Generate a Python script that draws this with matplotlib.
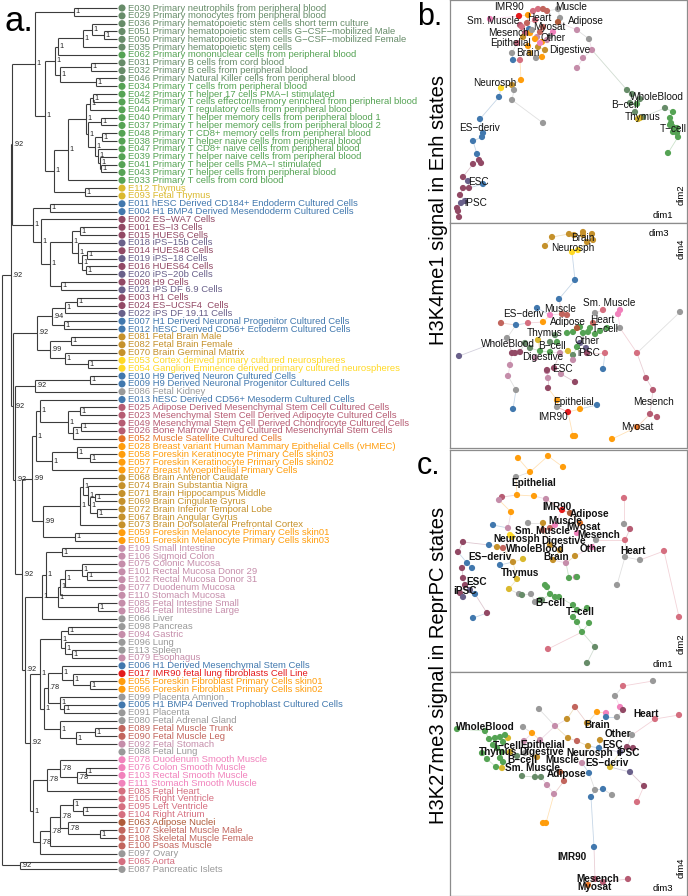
import numpy as np
import matplotlib

matplotlib.use("Agg")
import matplotlib.pyplot as plt

plt.rcParams["font.family"] = ["Liberation Sans", "DejaVu Sans"]

GROUP_COLORS = {
    "hsc": "#678C69", "blood": "#55A354", "thy": "#DAB92E", "esd": "#4178AE",
    "esc": "#924965", "ips": "#69608A", "neu": "#FFD924", "brain": "#C5912B",
    "epi": "#FF9D0C", "mes": "#B65C73", "myo": "#E67326", "mus": "#C2655D",
    "smm": "#F182BC", "dig": "#C58DAA", "heart": "#D56F80", "adi": "#AF5B39",
    "imr": "#E41A1C", "oth": "#999999",
}

# ---- dendrogram leaves (top to bottom) ----
LEAF_IDS = """E030 E029 E036 E051 E050 E035 E062 E031 E032 E046 E034 E042 E045 E044 E040 E037
E048 E038 E047 E039 E041 E043 E033 E112 E093 E011 E004 E002 E001 E015 E018 E014 E019 E016 E020
E008 E021 E003 E024 E022 E007 E012 E081 E082 E070 E053 E054 E010 E009 E086 E013 E025 E023 E049
E026 E052 E028 E058 E057 E027 E068 E074 E071 E069 E072 E067 E073 E059 E061 E109 E106 E075 E101
E102 E077 E110 E085 E084 E066 E098 E094 E096 E113 E079 E006 E017 E055 E056 E099 E005 E091 E080
E089 E090 E092 E088 E078 E076 E103 E111 E083 E105 E095 E104 E063 E107 E108 E100 E097 E065 E087""".split()

LEAF_NAMES = [
    "Primary neutrophils from peripheral blood", "Primary monocytes from peripheral blood",
    "Primary hematopoietic stem cells short term culture",
    "Primary hematopoietic stem cells G\u2212CSF\u2212mobilized Male",
    "Primary hematopoietic stem cells G\u2212CSF\u2212mobilized Female",
    "Primary hematopoietic stem cells", "Primary mononuclear cells from peripheral blood",
    "Primary B cells from cord blood", "Primary B cells from peripheral blood",
    "Primary Natural Killer cells from peripheral blood", "Primary T cells from peripheral blood",
    "Primary T helper 17 cells PMA\u2212I stimulated",
    "Primary T cells effector/memory enriched from peripheral blood",
    "Primary T regulatory cells from peripheral blood",
    "Primary T helper memory cells from peripheral blood 1",
    "Primary T helper memory cells from peripheral blood 2",
    "Primary T CD8+ memory cells from peripheral blood",
    "Primary T helper naive cells from peripheral blood",
    "Primary T CD8+ naive cells from peripheral blood",
    "Primary T helper naive cells from peripheral blood",
    "Primary T helper cells PMA\u2212I stimulated", "Primary T helper cells from peripheral blood",
    "Primary T cells from cord blood", "Thymus", "Fetal Thymus",
    "hESC Derived CD184+ Endoderm Cultured Cells", "H1 BMP4 Derived Mesendoderm Cultured Cells",
    "ES\u2212WA7 Cells", "ES\u2212I3 Cells", "HUES6 Cells", "iPS\u221215b Cells", "HUES48 Cells",
    "iPS\u221218 Cells", "HUES64 Cells", "iPS\u221220b Cells", "H9 Cells", "iPS DF 6.9 Cells",
    "H1 Cells", "ES\u2212UCSF4  Cells", "iPS DF 19.11 Cells",
    "H1 Derived Neuronal Progenitor Cultured Cells", "hESC Derived CD56+ Ectoderm Cultured Cells",
    "Fetal Brain Male", "Fetal Brain Female", "Brain Germinal Matrix",
    "Cortex derived primary cultured neurospheres",
    "Ganglion Eminence derived primary cultured neurospheres",
    "H9 Derived Neuron Cultured Cells", "H9 Derived Neuronal Progenitor Cultured Cells",
    "Fetal Kidney", "hESC Derived CD56+ Mesoderm Cultured Cells",
    "Adipose Derived Mesenchymal Stem Cell Cultured Cells",
    "Mesenchymal Stem Cell Derived Adipocyte Cultured Cells",
    "Mesenchymal Stem Cell Derived Chondrocyte Cultured Cells",
    "Bone Marrow Derived Cultured Mesenchymal Stem Cells", "Muscle Satellite Cultured Cells",
    "Breast variant Human Mammary Epithelial Cells (vHMEC)",
    "Foreskin Keratinocyte Primary Cells skin03", "Foreskin Keratinocyte Primary Cells skin02",
    "Breast Myoepithelial Primary Cells", "Brain Anterior Caudate", "Brain Substantia Nigra",
    "Brain Hippocampus Middle", "Brain Cingulate Gyrus", "Brain Inferior Temporal Lobe",
    "Brain Angular Gyrus", "Brain Dorsolateral Prefrontal Cortex",
    "Foreskin Melanocyte Primary Cells skin01", "Foreskin Melanocyte Primary Cells skin03",
    "Small Intestine", "Sigmoid Colon", "Colonic Mucosa", "Rectal Mucosa Donor 29",
    "Rectal Mucosa Donor 31", "Duodenum Mucosa", "Stomach Mucosa", "Fetal Intestine Small",
    "Fetal Intestine Large", "Liver", "Pancreas", "Gastric", "Lung", "Spleen", "Esophagus",
    "H1 Derived Mesenchymal Stem Cells", "IMR90 fetal lung fibroblasts Cell Line",
    "Foreskin Fibroblast Primary Cells skin01", "Foreskin Fibroblast Primary Cells skin02",
    "Placenta Amnion", "H1 BMP4 Derived Trophoblast Cultured Cells", "Placenta",
    "Fetal Adrenal Gland", "Fetal Muscle Trunk", "Fetal Muscle Leg", "Fetal Stomach",
    "Fetal Lung", "Duodenum Smooth Muscle", "Colon Smooth Muscle", "Rectal Smooth Muscle",
    "Stomach Smooth Muscle", "Fetal Heart", "Right Ventricle", "Left Ventricle", "Right Atrium",
    "Adipose Nuclei", "Skeletal Muscle Male", "Skeletal Muscle Female", "Psoas Muscle", "Ovary",
    "Aorta", "Pancreatic Islets",
]

LEAF_GROUPS = (
    ["hsc"] * 6 + ["blood"] + ["hsc"] * 3 + ["blood"] * 13 + ["thy"] * 2 + ["esd"] * 2
    + ["esc", "esc", "esc", "ips", "esc", "ips", "esc", "ips", "esc", "ips", "esc", "esc", "ips"]
    + ["esd", "esd", "brain", "brain", "brain", "neu", "neu", "esd", "esd", "oth", "esd"]
    + ["mes"] * 4 + ["myo"] + ["epi"] * 4 + ["brain"] * 7 + ["epi"] * 2 + ["dig"] * 9
    + ["oth", "oth", "dig", "oth", "oth", "dig", "esd", "imr", "epi", "epi", "oth", "esd", "oth",
       "oth", "mus", "mus", "dig", "oth"] + ["smm"] * 4 + ["heart"] * 4
    + ["adi", "mus", "mus", "mus", "oth", "heart", "oth"]
)


def n(height, support, *kids):
    return (height, support, kids)


# branch heights and support values of the consensus tree
BLOOD = n(35, "1", n(74, "1", "E030", "E029"),
          n(45, "1",
            n(55, "1",
              n(58, "1", n(83, "1", n(92, "1", "E036", n(104, "1", "E051", "E050")), "E035"), "E062"),
              n(60, "1", n(91, "1", "E031", "E032"), n(96, "1", "E046", "E034"))),
            n(54, "1",
              n(68, "1",
                n(86, "1",
                  n(90, "1", n(93, "1", "E042", "E045"), "E044"),
                  n(88, "1", n(101, "1", "E040", "E037"),
                    n(95, "1", n(102, "1", "E048", "E038"),
                      n(98, "1", "E047", n(100, "1", "E039", n(101, "1", "E041", "E043")))))),
                "E033"),
              n(85, "1", "E112", "E093"))))
ESC = n(33, "1", n(50, "1", "E011", "E004"),
        n(41, "1", "E002",
          n(50, "1",
            n(72, "1", n(80, "1", "E001", "E015"),
              n(78, "1", "E018", n(82, "1", n(87, "1", "E014", "E019"), n(86, "1", "E016", "E020")))),
            n(61, "1", "E008", "E021"))))
NEURO = n(37, ".92",
          n(52, ".94", n(65, "1", n(77, "1", "E003", "E024"), "E022"), n(64, "1", "E007", "E012")),
          n(50, ".99", n(71, "1", "E081", "E082"), n(65, "1", "E070", n(88, "1", "E053", "E054"))))
BRAIN = n(80, "1",
          n(83, "1", "E068",
            n(88, "1", "E074", n(90, "1", n(95, "1", "E071", "E069"), n(97, "1", "E072", "E067")))),
          "E073")
TISSUE = n(32, ".99",
           n(36, "1",
             n(40, "1", "E013",
               n(68, "1", n(80, "1", "E025", "E023"), n(73, "1", n(81, "1", "E049", "E026"), "E052"))),
             n(52, "1", n(77, "1", "E028", n(90, "1", "E058", "E057")), "E027")),
           n(43, ".99", BRAIN, n(75, "1", "E059", "E061")))
DIGEST = n(42, "1",
           n(46, "1", n(62, "1", "E109", "E106"),
             n(58, "1",
               n(60, "1", n(65, "1", n(82, "1", "E075", n(87, "1", "E101", "E102")), "E077"), "E110"),
               n(98, "1", "E085", "E084"))),
           "E066")
MIXED = n(40, "1",
          n(61, "1", n(68, "1", "E098", "E094"), n(65, "1", "E096", n(72, "1", "E113", "E079"))),
          n(44, "1",
            n(48, ".78",
              n(62, "1", "E006", n(73, "1", "E017", n(90, "1", "E055", "E056"))),
              n(60, "1", "E099", n(64, "1", "E005", "E091"))),
            n(60, "1", "E080", n(76, "1", n(95, "1", "E089", "E090"), "E092"))))
MUSCLE = n(33, "1",
           n(47, ".78", n(60, ".78", "E078", n(77, ".78", n(86, "1", "E076", "E103"), "E111")), "E083"),
           n(40, ".78",
             n(50, ".78",
               n(60, ".78", n(73, "1", "E105", n(83, "1", "E095", "E104")),
                 n(68, ".78", "E063", n(100, "1", "E107", "E108"))),
               "E100"),
             "E097"))
TREE = n(2, "",
         n(11, ".92",
           n(12, ".92", BLOOD, ESC),
           n(13, ".92", NEURO,
             n(15, ".92", n(35, ".92", n(90, "1", "E010", "E009"), "E086"),
               n(22, ".92", TISSUE,
                 n(25, ".92", DIGEST, n(30, ".92", MIXED, MUSCLE)))))),
         n(20, ".92", "E065", "E087"))

# ---- MDS-like panels: point positions (panel units) ----
BT_X = [69, 83, 88, 93, 97, 108, 110, 108, 78, 40, 70, 72, 77, 79, 75, 87, 85, 92, 78, 88, 80, 92, 70,
        62, 63, 90, 127, 139, 142, 133, 127, 100, 97, 103, 80, 73, 67, 93, 90, 85, 82, 95, 86,
        51, 62, 64, 71, 49, 62, 93, 30, 33, 32, 23, 27, 29, 23, 31, 13, 19, 13, 8, 9, 33, 11, 15, 7,
        18, 10, 177, 182, 190, 180, 185, 215, 193, 187, 223, 220, 221, 223, 225, 227, 228, 223, 218,
        227, 220, 188, 190]
BT_Y = [16, 11, 9, 9, 11, 9, 18, 22, 15, 19, 25, 27, 23, 29, 33, 37, 39, 42, 46, 47, 53, 57, 60,
        53, 60, 43, 30, 39, 50, 58, 68, 36, 40, 32, 33, 37, 43, 27, 32, 20, 30, 50, 58,
        88, 85, 90, 80, 97, 100, 123, 119, 133, 137, 141, 154, 160, 164, 163, 177, 188, 188, 211,
        217, 184, 203, 201, 208, 181, 195, 90, 94, 99, 103, 112, 108, 117, 104, 112, 118, 123, 127,
        130, 133, 137, 132, 153, 128, 125, 119, 118]
BT_G = ["imr", "heart", "heart", "mus", "mus", "oth", "oth", "adi", "epi", "smm", "mes", "heart",
        "mus", "esd", "mes", "dig", "epi", "epi", "epi", "brain", "brain", "epi", "heart", "oth",
        "esd", "smm", "dig", "oth", "dig", "dig", "dig", "oth", "dig", "smm", "epi", "brain", "mes",
        "mus", "mus", "heart", "oth", "brain", "oth",
        "neu", "brain", "oth", "epi", "esd", "oth", "oth", "esd", "esd", "esd", "esd", "esd", "esc",
        "esc", "esc", "esc", "esc", "esc", "esc", "esc", "esd", "ips", "ips", "esc", "ips", "esc",
        "hsc", "hsc", "hsc", "hsc", "hsc", "hsc", "hsc", "blood", "blood", "blood", "blood", "blood",
        "blood", "blood", "blood", "blood", "blood", "blood", "blood", "thy", "thy"]

BB_X = [102, 119, 124, 133, 142, 143, 133, 137, 95, 122, 128, 125, 109, 87, 66, 153, 147, 63, 66, 230,
        107, 57, 145, 170, 9, 130, 136, 51, 112, 117, 143, 78, 153, 187, 155, 170, 168, 100, 196, 203,
        200, 207, 187, 118, 130, 123, 125, 162, 107, 93, 117, 123, 133, 138, 145, 157, 127, 107, 100,
        90, 130, 140, 150, 100, 105, 123, 80, 75, 88, 118, 127, 97, 98, 111, 58, 123, 60, 110, 85, 98,
        97, 125, 137, 62, 65, 70, 104]
BB_Y = [14, 11, 12, 9, 11, 17, 12, 19, 23, 29, 27, 57, 76, 85, 102, 146, 182, 186, 167, 89, 184, 115,
        90, 105, 133, 120, 125, 100, 91, 92, 100, 100, 87, 130, 130, 87, 91, 92, 155, 167, 191, 194,
        204, 189, 186, 213, 213, 216, 177, 99, 110, 109, 110, 109, 111, 105, 124, 119, 129, 128, 104,
        105, 108, 119, 112, 132, 125, 120, 117, 128, 105, 148, 155, 151, 153, 137, 142, 130, 135, 165,
        147, 159, 130, 130, 130, 129, 145]
BB_G = ["brain"] * 9 + ["neu"] * 2 + ["esd"] * 7 + ["oth"] * 6 + ["ips"] * 3 + ["mus"] * 4 \
    + ["heart"] * 4 + ["smm"] * 3 + ["mes"] * 4 + ["myo", "imr"] + ["epi"] * 6 + ["blood"] * 13 \
    + ["hsc"] * 5 + ["thy"] * 2 + ["adi"] + ["dig"] * 8 + ["esc"] * 8

CT_X = [68, 98, 113, 80, 67, 84, 61, 66, 78, 81, 85, 69, 167, 190, 175, 174, 146, 52, 49, 96, 174,
        175, 214, 229, 98, 116, 126, 58, 180, 43, 39, 50, 17, 22, 25, 23, 12, 13, 15, 37, 10, 13, 8,
        13, 20, 59, 73, 67, 47, 63, 93, 125, 103, 110, 100, 62, 60, 119, 127, 95, 97, 100, 105, 109,
        123, 127, 137, 123, 127, 139, 132, 90, 145, 137, 72, 92, 112, 100, 93, 53, 120, 127, 142, 105,
        130]
CT_Y = [8, 6, 17, 22, 45, 46, 62, 27, 73, 144, 152, 144, 135, 110, 107, 74, 90, 47, 50, 49, 48, 90,
        101, 167, 199, 113, 127, 78, 79, 75, 95, 115, 113, 118, 144, 168, 118, 128, 135, 163, 143, 92,
        102, 147, 140, 139, 109, 129, 97, 112, 73, 106, 110, 100, 95, 87, 85, 128, 127, 135, 137, 144,
        147, 147, 155, 160, 158, 167, 172, 173, 182, 150, 197, 213, 145, 150, 60, 78, 80, 98, 63, 83,
        97, 75, 73]
CT_G = ["epi"] * 7 + ["oth"] * 10 + ["mes", "dig", "dig", "heart", "heart", "heart", "heart", "heart",
                                     "dig", "dig", "dig", "mes"] \
    + ["esd"] * 7 + ["esc"] * 7 + ["ips"] * 2 + ["thy"] * 3 + ["brain"] * 7 + ["neu"] * 2 \
    + ["blood"] * 15 + ["hsc"] * 4 + ["imr", "mus", "mus", "mus", "adi", "smm", "smm", "smm", "myo"]

CB_X = [203, 165, 89, 167, 73, 182, 162, 145, 75, 173, 229, 205, 187, 170, 156, 125, 127, 114, 147, 82,
        93, 96, 173, 177, 183, 194, 156, 149, 153, 141, 139, 144, 117, 137, 150, 118, 138, 87, 105, 74,
        90, 132, 104, 97, 58, 52, 60, 160, 180, 170, 178, 145, 153, 138, 7, 35, 39, 45, 50, 55, 53, 43,
        47, 52, 32, 37, 46, 50, 53, 72, 85, 91, 67, 110]
CB_Y = [9, 24, 37, 45, 55, 63, 123, 118, 81, 14, 43, 47, 130, 35, 41, 35, 69, 109, 40, 61, 151, 151,
        38, 75, 76, 114, 45, 76, 117, 125, 101, 175, 47, 51, 68, 66, 74, 85, 54, 69, 68, 91, 122, 113,
        66, 96, 80, 95, 100, 80, 207, 207, 210, 213, 57, 59, 67, 66, 65, 63, 70, 73, 76, 80, 81, 87,
        95, 86, 90, 104, 105, 105, 84, 100]
CB_G = ["oth"] * 9 + ["heart"] * 4 + ["smm"] * 2 + ["mus"] * 3 + ["epi"] * 4 + ["esc"] * 4 \
    + ["esd"] * 6 + ["brain"] * 6 + ["dig"] * 6 + ["thy"] * 4 + ["ips"] * 2 + ["mes"] * 3 + ["myo"] \
    + ["blood"] * 15 + ["hsc"] * 4 + ["adi"]

# group name labels at group centres
BT_LABELS = ["IMR90", "Muscle", "Sm. Muscle", "Heart", "Adipose", "Myosat", "Mesench", "Other",
             "Epithelial", "Digestive", "Brain", "Neurosph", "ES\u2212deriv", "ESC", "iPSC",
             "WholeBlood", "B\u2212cell", "Thymus", "T\u2212cell"]
BT_LX = [59, 121, 43, 89, 136, 99, 58, 103, 60, 120, 78, 45, 29, 28, 26, 207, 175, 193, 223]
BT_LY = [7, 7, 21, 18, 21, 27, 33, 38, 43, 50, 53, 83, 128, 182, 203, 97, 105, 117, 129]

BB_LABELS = ["Brain", "Neurosph", "Sm. Muscle", "Muscle", "ES\u2212deriv", "Heart", "Adipose",
             "T\u2212cell", "Thymus", "Other", "WholeBlood", "B\u2212cell", "iPSC", "Digestive", "ESC",
             "Epithelial", "IMR90", "Mesench", "Myosat"]
BB_LX = [133, 123, 159, 110, 73, 152, 118, 155, 95, 137, 58, 102, 139, 93, 112, 123, 103, 203, 187]
BB_LY = [15, 25, 80, 86, 91, 97, 99, 106, 110, 118, 121, 123, 130, 134, 146, 179, 194, 179, 204]

CT_LABELS = ["Epithelial", "IMR90", "Adipose", "Muscle", "Myosat", "Sm. Muscle", "Mesench",
             "Neurosph", "Digestive", "WholeBlood", "Other", "Heart", "ES\u2212deriv", "Brain",
             "Thymus", "ESC", "iPSC", "B\u2212cell", "T\u2212cell"]
CT_LX = [84, 107, 140, 115, 133, 92, 149, 67, 114, 85, 143, 183, 40, 106, 70, 27, 15, 100, 130]
CT_LY = [33, 57, 64, 71, 77, 81, 85, 89, 91, 99, 99, 101, 107, 107, 123, 132, 141, 153, 162]

CB_LABELS = ["Heart", "WholeBlood", "Brain", "Other", "ESC", "T\u2212cell", "Epithelial", "Thymus",
             "Digestive", "Neurosph", "iPSC", "B\u2212cell", "Muscle", "ES\u2212deriv", "Sm. Muscle",
             "Adipose", "IMR90", "Mesench", "Myosat"]
CB_LX = [196, 35, 147, 168, 163, 57, 93, 48, 92, 140, 178, 72, 112, 157, 82, 117, 122, 148, 144]
CB_LY = [42, 55, 53, 62, 73, 74, 73, 80, 80, 81, 81, 88, 88, 91, 96, 102, 185, 207, 215]


def spanning_edges(xs, ys):
    pts = np.column_stack([xs, ys]).astype(float)
    count = len(pts)
    dist = np.hypot(pts[:, None, 0] - pts[None, :, 0], pts[:, None, 1] - pts[None, :, 1])
    in_tree = np.zeros(count, bool)
    in_tree[0] = True
    best = dist[0].copy()
    parent = np.zeros(count, int)
    edges = []
    for _ in range(count - 1):
        j = int(np.argmin(np.where(in_tree, np.inf, best)))
        edges.append((parent[j], j))
        in_tree[j] = True
        closer = dist[j] < best
        parent[closer] = j
        best = np.minimum(best, dist[j])
    return edges


def draw_tree(ax):
    index = {leaf: i for i, leaf in enumerate(LEAF_IDS)}
    tip_x = 117
    line = dict(color="#3c3c3c", lw=0.8, solid_capstyle="butt")

    def walk(node):
        if isinstance(node, str):
            return tip_x, index[node]
        height, support, kids = node
        placed = [walk(k) for k in kids]
        ys = [p[1] for p in placed]
        y = float(np.mean(ys))
        ax.plot([height, height], [min(ys), max(ys)], **line)
        for kx, ky in placed:
            ax.plot([height, kx], [ky, ky], **line)
        if support:
            ax.text(height + 1.3, y, support, fontsize=5.2, ha="left", va="center", color="#222222")
        return height, y

    walk(TREE)
    colors = [GROUP_COLORS[g] for g in LEAF_GROUPS]
    rows = np.arange(len(LEAF_IDS))
    ax.scatter(np.full(len(rows), 122), rows, s=26, c=colors, linewidths=0, zorder=3)
    for i, (eid, name, col) in enumerate(zip(LEAF_IDS, LEAF_NAMES, colors)):
        ax.text(128.5, i, f"{eid} {name}", fontsize=6.8, color=col, ha="left", va="center")


def draw_panel(ax, xs, ys, groups, labels, lx, ly, height, bold, dims, dims_top):
    colors = [GROUP_COLORS[g] for g in groups]
    for a, b in spanning_edges(xs, ys):
        ax.plot([xs[a], xs[b]], [ys[a], ys[b]], color=colors[b], alpha=0.3, lw=0.6, zorder=1)
    ax.scatter(xs, ys, s=20, c=colors, linewidths=0, zorder=2)
    for text, x, y in zip(labels, lx, ly):
        ax.text(x, y, text, fontsize=7.2, ha="center", va="center", zorder=4,
                fontweight="bold" if bold else "normal", color="#111111")
    ax.set_xlim(0, 237)
    ax.set_ylim(height, 0)
    ax.set_xticks([])
    ax.set_yticks([])
    for spine in ax.spines.values():
        spine.set_color("#8c8c8c")
        spine.set_linewidth(0.9)
    if dims_top:
        ax.text(0.88, 0.975, dims[0], transform=ax.transAxes, fontsize=6.8, ha="center", va="top")
        ax.text(0.995, 0.93, dims[1], transform=ax.transAxes, fontsize=6.8, rotation=90,
                ha="right", va="top")
    else:
        ax.text(0.9, 0.015, dims[0], transform=ax.transAxes, fontsize=6.8, ha="center", va="bottom")
        ax.text(0.995, 0.08, dims[1], transform=ax.transAxes, fontsize=6.8, rotation=90,
                ha="right", va="bottom")


def main():
    W, H = 688, 896
    fig = plt.figure(figsize=(W / 100, H / 100), dpi=100)

    ax_tree = fig.add_axes([0, 0, 440 / W, 1])
    ax_tree.set_xlim(0, 440)
    spacing = (869.4 - 8) / (len(LEAF_IDS) - 1)
    ax_tree.set_ylim(len(LEAF_IDS) - 1 + (H - 869.4) / spacing, -8 / spacing)
    ax_tree.axis("off")
    draw_tree(ax_tree)

    panels = [
        (0, 223, BT_X, BT_Y, BT_G, BT_LABELS, BT_LX, BT_LY, False, ("dim1", "dim2"), False),
        (223, 448, BB_X, BB_Y, BB_G, BB_LABELS, BB_LX, BB_LY, False, ("dim3", "dim4"), True),
        (450, 672, CT_X, CT_Y, CT_G, CT_LABELS, CT_LX, CT_LY, True, ("dim1", "dim2"), False),
        (672, 896, CB_X, CB_Y, CB_G, CB_LABELS, CB_LX, CB_LY, True, ("dim3", "dim4"), False),
    ]
    for top, bottom, xs, ys, gs, labs, lx, ly, bold, dims, dims_top in panels:
        ax = fig.add_axes([450 / W, 1 - bottom / H, 237 / W, (bottom - top) / H])
        draw_panel(ax, xs, ys, gs, labs, lx, ly, bottom - top, bold, dims, dims_top)

    fig.text(5 / W, 1 - 31 / H, "a.", fontsize=25, ha="left", va="baseline")
    fig.text(417 / W, 1 - 25 / H, "b.", fontsize=22, ha="left", va="baseline")
    fig.text(417 / W, 1 - 474 / H, "c.", fontsize=22, ha="left", va="baseline")
    fig.text(439 / W, 1 - 210 / H, "H3K4me1 signal in Enh states", fontsize=14.5, rotation=90,
             ha="center", va="center")
    fig.text(439 / W, 1 - 665 / H, "H3K27me3 signal in ReprPC states", fontsize=14.5, rotation=90,
             ha="center", va="center")

    fig.savefig("out.png", dpi=100)
    plt.close(fig)


if __name__ == "__main__":
    main()
